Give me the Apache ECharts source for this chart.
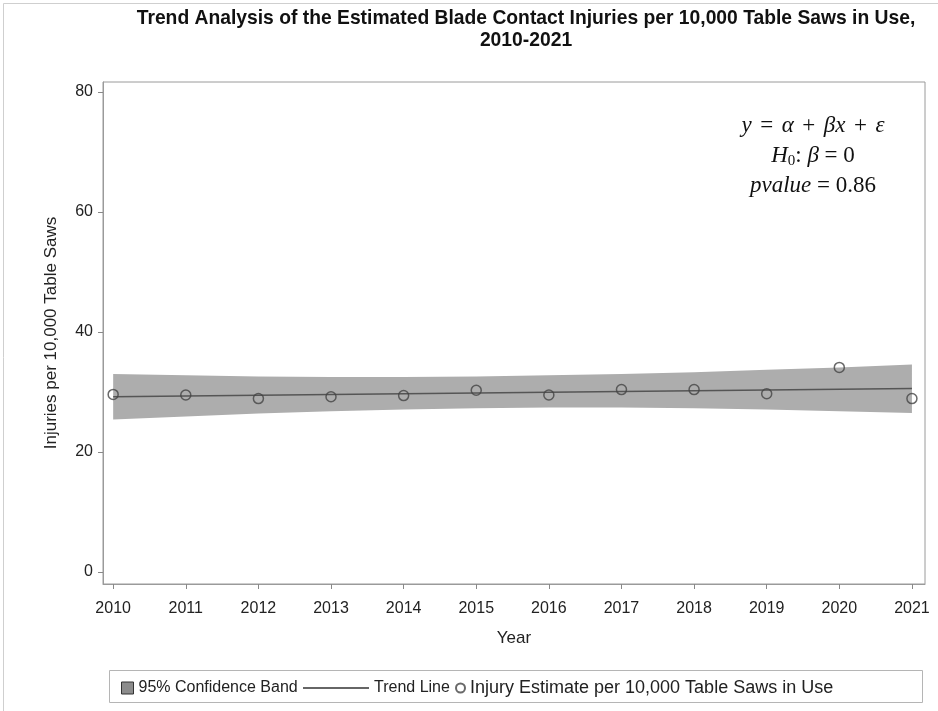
<!DOCTYPE html>
<html>
<head>
<meta charset="utf-8">
<script src="https://cdn.jsdelivr.net/npm/echarts@6/dist/echarts.min.js"></script>
<style>
html,body{margin:0;padding:0;background:#fff;}
#chart{width:938px;height:711px;}
</style>
</head>
<body>
<div id="chart"></div>
<script>
// ---- data ----
var years = [2010, 2011, 2012, 2013, 2014, 2015, 2016, 2017, 2018, 2019, 2020, 2021];
var injuryEstimates = [29.6, 29.5, 28.9, 29.2, 29.4, 30.3, 29.5, 30.4, 30.4, 29.7, 34.1, 28.9];
var bandLower = [25.4, 25.9, 26.4, 26.8, 27.1, 27.3, 27.4, 27.4, 27.3, 27.1, 26.8, 26.5];
var bandUpper = [33.0, 32.8, 32.6, 32.5, 32.5, 32.6, 32.8, 33.0, 33.3, 33.7, 34.1, 34.6];
var trendYears = [2010, 2021];
var trendValues = [29.2, 30.6];
var yTicks = [0, 20, 40, 60, 80];

var FONT = '"Liberation Sans", Arial, sans-serif';
var SERIF = '"Liberation Serif", "DejaVu Serif", serif';

var chart = echarts.init(document.getElementById('chart'), null, {renderer: 'canvas'});

var scatterData = years.map(function (y, i) { return [y, injuryEstimates[i]]; });
var trendData = trendYears.map(function (y, i) { return [y, trendValues[i]]; });

var option = {
  backgroundColor: '#fff',
  animation: false,
  title: {
    text: 'Trend Analysis of the Estimated Blade Contact Injuries per 10,000 Table Saws in Use,\n2010-2021',
    left: 521, top: 3, textAlign: 'center',
    textStyle: {fontFamily: FONT, fontSize: 19.3, fontWeight: 'bold', color: '#111', lineHeight: 22}
  },
  grid: {left: 103, top: 82, right: 13, bottom: 127, show: true, borderColor: '#9a9a9a', borderWidth: 1, backgroundColor: 'transparent'},
  xAxis: {
    type: 'value', min: 2009.86, max: 2021.18,
    name: 'Year', nameLocation: 'middle', nameGap: 46,
    nameTextStyle: {fontFamily: FONT, fontSize: 17, color: '#222'},
    axisLine: {show: true, onZero: false, lineStyle: {color: '#9a9a9a'}},
    axisTick: {show: true, length: 5, lineStyle: {color: '#888'}, customValues: years},
    axisLabel: {fontFamily: FONT, fontSize: 16, color: '#222', margin: 17, customValues: years,
      formatter: function (v) { return String(Math.round(v)); }},
    splitLine: {show: false}
  },
  yAxis: {
    type: 'value', min: -2, max: 81.67,
    name: 'Injuries per 10,000 Table Saws', nameLocation: 'middle', nameGap: 43, nameRotate: 90,
    nameTextStyle: {fontFamily: FONT, fontSize: 17, color: '#222'},
    axisLine: {show: true, onZero: false, lineStyle: {color: '#9a9a9a'}},
    axisTick: {show: true, length: 5, lineStyle: {color: '#888'}, customValues: yTicks},
    axisLabel: {fontFamily: FONT, fontSize: 16, color: '#222', margin: 10, customValues: yTicks},
    splitLine: {show: false}
  },
  legend: [
    {
      left: 116, top: 675, itemWidth: 12, itemHeight: 12,
      textStyle: {fontFamily: FONT, fontSize: 16, color: '#222'},
      data: [{name: '95% Confidence Band', icon: 'rect', itemStyle: {color: '#8c8c8c', borderColor: '#333', borderWidth: 1}}]
    },
    {
      left: 298, top: 675, itemWidth: 66, itemHeight: 2,
      textStyle: {fontFamily: FONT, fontSize: 16, color: '#222'},
      data: [{name: 'Trend Line', icon: 'rect', itemStyle: {color: '#666', borderWidth: 0}}]
    },
    {
      left: 450, top: 674, itemWidth: 9, itemHeight: 9,
      textStyle: {fontFamily: FONT, fontSize: 18, color: '#222'},
      data: [{name: 'Injury Estimate per 10,000 Table Saws in Use', icon: 'circle'}]
    }
  ],
  graphic: [
    {type: 'rect', left: 1, top: 1, shape: {width: 935, height: 708}, style: {fill: 'none', stroke: '#cfcfcf', lineWidth: 1}, silent: true},
    {type: 'rect', left: 107, top: 668, shape: {width: 813, height: 32}, style: {fill: 'none', stroke: '#b5b5b5', lineWidth: 1}, silent: true},
    {
      type: 'text', x: 813, y: 111, z: 10,
      style: {
        align: 'center', verticalAlign: 'top',
        text: '{i|y}{p| }{r| = }{p| }{i|α}{p| }{r| + }{p| }{i|βx}{p| }{r| + }{p| }{i|ε}\n{i|H}{s|0}{r|: }{i|β}{r| = 0}\n{i|pvalue}{r| = 0.86}',
        rich: {
          i: {fontFamily: SERIF, fontStyle: 'italic', fontSize: 23, fill: '#111', lineHeight: 30},
          r: {fontFamily: SERIF, fontSize: 23, fill: '#111', lineHeight: 30},
          p: {fontFamily: SERIF, fontSize: 11, fill: '#111', lineHeight: 30},
          s: {fontFamily: SERIF, fontSize: 15, fill: '#111', lineHeight: 30, padding: [10, 0, 0, 0]}
        }
      }
    }
  ],
  series: [
    {
      name: '95% Confidence Band', type: 'custom',
      data: [[years[0], bandLower[0]]],
      itemStyle: {color: '#8c8c8c'},
      renderItem: function (params, api) {
        var pts = [];
        for (var i = 0; i < years.length; i++) pts.push(api.coord([years[i], bandUpper[i]]));
        for (var j = years.length - 1; j >= 0; j--) pts.push(api.coord([years[j], bandLower[j]]));
        return {type: 'polygon', shape: {points: pts}, style: {fill: '#adadad', stroke: 'none'}};
      },
      z: 1
    },
    {
      name: 'Trend Line', type: 'line', data: trendData, symbol: 'none',
      lineStyle: {color: '#555', width: 1.5}, itemStyle: {color: '#555'}, z: 2
    },
    {
      name: 'Injury Estimate per 10,000 Table Saws in Use', type: 'scatter', data: scatterData,
      symbol: 'circle', symbolSize: 10,
      itemStyle: {color: 'rgba(0,0,0,0)', borderColor: '#444', borderWidth: 1.5}, z: 3
    }
  ]
};
chart.setOption(option);
</script>
</body>
</html>
